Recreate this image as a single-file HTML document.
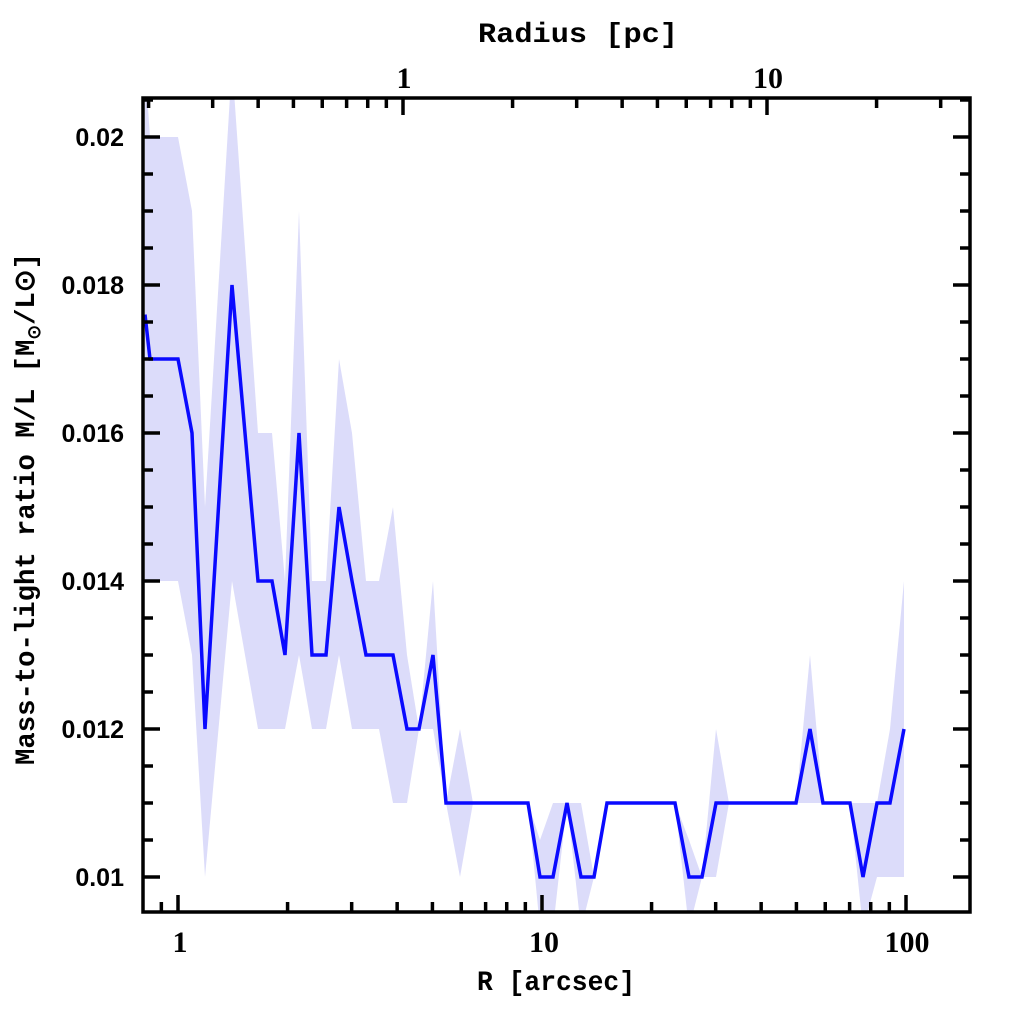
<!DOCTYPE html>
<html><head><meta charset="utf-8"><style>
html,body{margin:0;padding:0;background:#fff;width:1024px;height:1024px;overflow:hidden}
</style></head><body>
<svg id="s" width="1024" height="1024" xmlns="http://www.w3.org/2000/svg">
<defs><clipPath id="c"><rect x="143" y="98" width="827" height="814"/></clipPath></defs>
<g id="band" clip-path="url(#c)"></g>
<g id="line" clip-path="url(#c)"></g>
<rect x="143" y="98" width="827" height="814" fill="none" stroke="#000" stroke-width="3.5"/>
<g id="ticks" stroke="#000" stroke-width="3.5"></g>
<g font-family="Liberation Sans, sans-serif" font-weight="bold" font-size="25" fill="#000">
<text x="124" y="146" text-anchor="end">0.02</text>
<text x="124" y="294" text-anchor="end">0.018</text>
<text x="124" y="442" text-anchor="end">0.016</text>
<text x="124" y="590" text-anchor="end">0.014</text>
<text x="124" y="738" text-anchor="end">0.012</text>
<text x="124" y="886" text-anchor="end">0.01</text>
</g>
<g font-family="Liberation Serif, serif" font-weight="bold" font-size="30" fill="#000">
<text x="180" y="952" text-anchor="middle">1</text>
<text x="544" y="952" text-anchor="middle">10</text>
<text x="907" y="952" text-anchor="middle">100</text>
<text x="404" y="88" text-anchor="middle">1</text>
<text x="768" y="88" text-anchor="middle">10</text>
</g>
<g font-family="Liberation Mono, monospace" font-weight="bold" font-size="28" fill="#000">
<text x="556" y="990" text-anchor="middle" textLength="158" lengthAdjust="spacingAndGlyphs">R [arcsec]</text>
<text x="578" y="42" text-anchor="middle" textLength="200" lengthAdjust="spacingAndGlyphs">Radius [pc]</text>
<text transform="translate(34,765) rotate(-90)" textLength="512" lengthAdjust="spacingAndGlyphs">Mass-to-light ratio M/L [M<tspan font-size="18" dy="6">⊙</tspan><tspan dy="-6">/L⊙]</tspan></text>
</g>
</svg>
<script>
var Y=function(v){return 137+(0.02-v)*74000};
var d=[[145,.0176,.021,.014],[150,.017,.020,.014],[178,.017,.020,.014],[192,.016,.019,.013],[205,.012,.015,.010],[232,.018,.021,.014],[258,.014,.016,.012],[272,.014,.016,.012],[285,.013,.014,.012],[299,.016,.019,.013],[312,.013,.014,.012],[326,.013,.014,.012],[339,.015,.017,.013],[352,.014,.016,.012],[366,.013,.014,.012],[379,.013,.014,.012],[393,.013,.015,.011],[407,.012,.013,.011],[419,.012,.012,.012],[433,.013,.014,.012],[446,.011,.011,.011],[460,.011,.012,.010],[473,.011,.011,.011],[528,.011,.011,.011],[540,.010,.0105,.0093],[553,.010,.011,.0093],[567,.011,.011,.011],[581,.010,.011,.0093],[594,.010,.010,.010],[607,.011,.011,.011],[675,.011,.011,.011],[689,.010,.0105,.0093],[702,.010,.010,.010],[716,.011,.012,.010],[729,.011,.011,.011],[796,.011,.011,.011],[810,.012,.013,.011],[823,.011,.011,.011],[850,.011,.011,.011],[863,.010,.011,.0093],[877,.011,.011,.010],[890,.011,.012,.010],[904,.012,.014,.010]];
var up=d.map(p=>p[0]+','+Y(p[2])).join(' ');
var lo=d.slice().reverse().map(p=>p[0]+','+Y(p[3])).join(' ');
document.getElementById('band').innerHTML='<polygon points="'+up+' '+lo+'" fill="#dcdcfa"/>';
document.getElementById('line').innerHTML='<polyline points="'+d.map(p=>p[0]+','+Y(p[1])).join(' ')+'" fill="none" stroke="#0a0aff" stroke-width="3.5" stroke-linejoin="miter"/>';
var t='';
function L(x1,y1,x2,y2){t+='<line x1="'+x1+'" y1="'+y1+'" x2="'+x2+'" y2="'+y2+'"/>';}
for(var i=0;i<=22;i++){var v=0.0095+i*0.0005;var y=Y(v);if(y<99||y>911)continue;var maj=Math.abs((v*1000)%2)<1e-6||Math.abs((v*1000)%2-2)<1e-6;var l=maj?17:10;L(143,y,143+l,y);L(970,y,970-l,y);}
[0.8,0.9,1,2,3,4,5,6,7,8,9,10,20,30,40,50,60,70,80,90,100].forEach(function(a){var x=178+364*Math.log10(a);if(x<144||x>969)return;var m=(a==1||a==10||a==100);var l=m?17:10;L(x,912,x,912-l);});
[0.2,0.3,0.4,0.5,0.6,0.7,0.8,0.9,1,2,3,4,5,6,7,8,9,10,20,30].forEach(function(a){var x=403+364*Math.log10(a);if(x<144||x>969)return;var m=(a==1||a==10);var l=m?17:10;L(x,98,x,98+l);});
document.getElementById('ticks').innerHTML=t;
</script>
</body></html>
